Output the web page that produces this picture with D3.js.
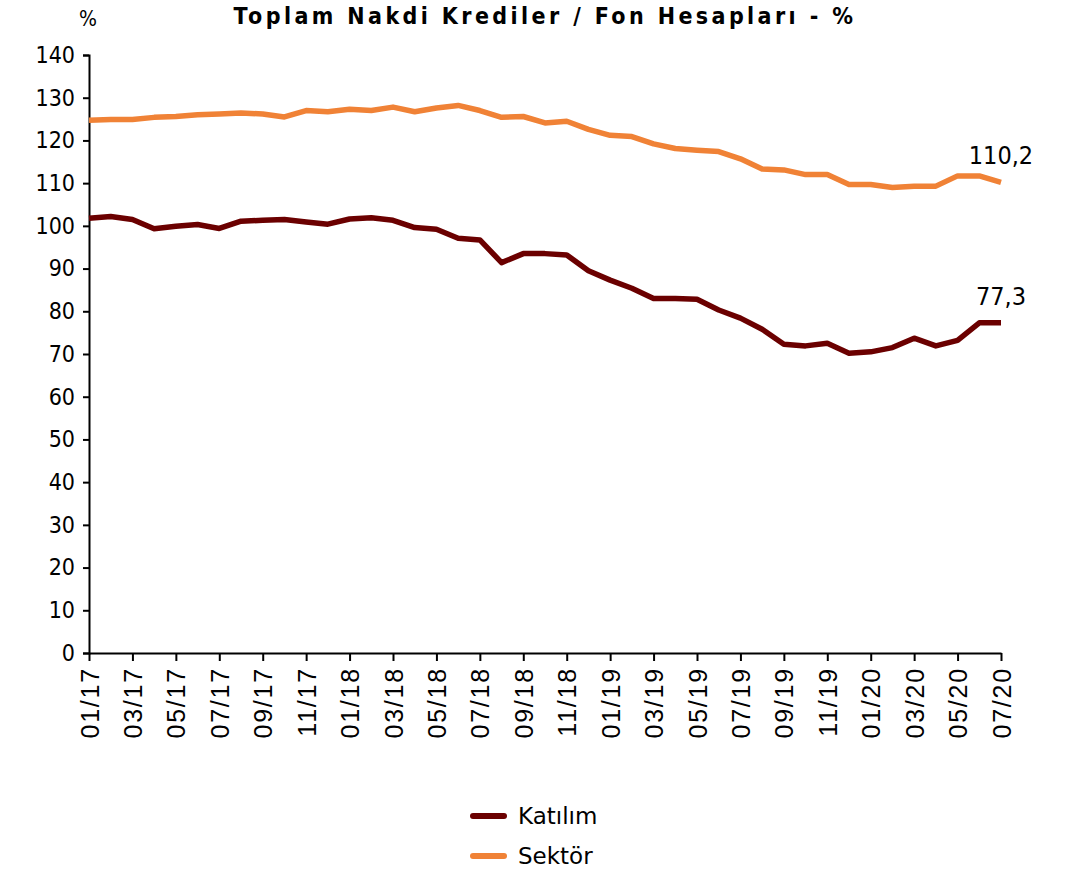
<!DOCTYPE html>
<html>
<head>
<meta charset="utf-8">
<script src="https://cdn.jsdelivr.net/npm/d3@7"></script>
<style>
  body { margin: 0; background: #fff; }
  svg { display: block; }
</style>
</head>
<body>
<svg width="1066" height="869"></svg>
<script>
// months on the x axis
const months = ["01/17","02/17","03/17","04/17","05/17","06/17","07/17","08/17","09/17","10/17","11/17","12/17",
  "01/18","02/18","03/18","04/18","05/18","06/18","07/18","08/18","09/18","10/18","11/18","12/18",
  "01/19","02/19","03/19","04/19","05/19","06/19","07/19","08/19","09/19","10/19","11/19","12/19",
  "01/20","02/20","03/20","04/20","05/20","06/20","07/20"];

const katilim = [101.8,102.2,101.5,99.3,99.9,100.3,99.4,101.1,101.3,101.5,100.9,100.4,
  101.6,101.9,101.3,99.6,99.2,97.1,96.7,91.4,93.5,93.5,93.2,89.5,
  87.3,85.4,83.0,83.0,82.8,80.3,78.4,75.8,72.3,71.9,72.5,70.2,
  70.5,71.5,73.7,71.9,73.2,77.3,77.3];

const sektor = [124.7,124.9,124.9,125.4,125.6,126.0,126.2,126.4,126.2,125.5,127.0,126.7,
  127.3,127.0,127.8,126.7,127.6,128.2,127.0,125.4,125.6,124.1,124.5,122.6,
  121.2,120.9,119.2,118.1,117.7,117.4,115.7,113.3,113.1,112.0,112.0,109.7,
  109.7,109.0,109.3,109.3,111.7,111.7,110.2];

const yTicks = d3.range(0, 141, 10);

const font = "'DejaVu Sans Condensed', sans-serif";

const svg = d3.select("svg"),
  margin = {top: 55, left: 89},
  width = 1001 - 89,
  height = 653 - 55,
  g = svg.append("g").attr("transform", "translate(" + margin.left + "," + margin.top + ")");

const x = d3.scalePoint().domain(months).range([0, width]);
const y = d3.scaleLinear().domain([0, 140]).range([height, 0]);

// y axis
const yAxis = g.append("g")
  .call(d3.axisLeft(y).tickValues(yTicks).tickSize(6).tickPadding(8).tickFormat(d3.format("d")));
yAxis.selectAll("text").attr("font-family", font).attr("font-size", 23).attr("fill", "#000");
yAxis.select(".domain").attr("stroke", "#000").attr("stroke-width", 2);
yAxis.selectAll(".tick line").attr("stroke", "#000").attr("stroke-width", 2);

// x axis, labels every 2 months
const xAxis = g.append("g")
  .attr("transform", "translate(0," + height + ")")
  .call(d3.axisBottom(x).tickValues(months.filter((d, i) => i % 2 === 0)).tickSize(8).tickSizeOuter(0));
xAxis.select(".domain").attr("stroke", "#000").attr("stroke-width", 2);
xAxis.selectAll(".tick line").attr("stroke", "#000").attr("stroke-width", 2);
xAxis.selectAll("text")
  .attr("font-family", "'Liberation Sans', Arial, sans-serif")
  .attr("font-size", 25)
  .attr("fill", "#000")
  .attr("letter-spacing", 1.8)
  .attr("transform", "rotate(-90)")
  .attr("text-anchor", "end")
  .attr("x", -14)
  .attr("y", 0)
  .attr("dy", "0.36em");

// lines
const line = d3.line().x((d, i) => x(months[i])).y(d => y(d));
const series = [
  {name: "Katılım", values: katilim, color: "#6b0000"},
  {name: "Sektör", values: sektor, color: "#f08236"}
];
series.forEach(s => {
  g.append("path")
    .datum(s.values)
    .attr("fill", "none")
    .attr("stroke", s.color)
    .attr("stroke-width", 5.5)
    .attr("stroke-linejoin", "round")
    .attr("d", line);
});

// end value labels
const fmt = v => v.toFixed(1).replace(".", ",");
[sektor, katilim].forEach(vals => {
  const last = vals[vals.length - 1];
  g.append("text")
    .attr("x", x(months[months.length - 1]))
    .attr("y", y(last) - 18)
    .attr("text-anchor", "middle")
    .attr("font-family", font)
    .attr("font-size", 25)
    .attr("fill", "#000")
    .text(fmt(last));
});

// title and unit
svg.append("text")
  .attr("x", 545).attr("y", 24)
  .attr("text-anchor", "middle")
  .attr("font-family", font)
  .attr("font-weight", "bold")
  .attr("font-size", 23)
  .attr("letter-spacing", 3.4)
  .text("Toplam Nakdi Krediler / Fon Hesapları - %");

svg.append("text")
  .attr("x", 88).attr("y", 26)
  .attr("text-anchor", "middle")
  .attr("font-family", font)
  .attr("font-size", 21)
  .text("%");

// legend
const legend = svg.append("g").attr("transform", "translate(471,816)");
series.forEach((s, i) => {
  const row = legend.append("g").attr("transform", "translate(0," + (i * 40) + ")");
  row.append("line")
    .attr("x1", 2).attr("x2", 33)
    .attr("stroke", s.color).attr("stroke-width", 6).attr("stroke-linecap", "round");
  row.append("text")
    .attr("x", 47).attr("dy", "0.36em")
    .attr("font-family", "'DejaVu Sans', sans-serif")
    .attr("font-size", 23)
    .text(s.name);
});
</script>
</body>
</html>
